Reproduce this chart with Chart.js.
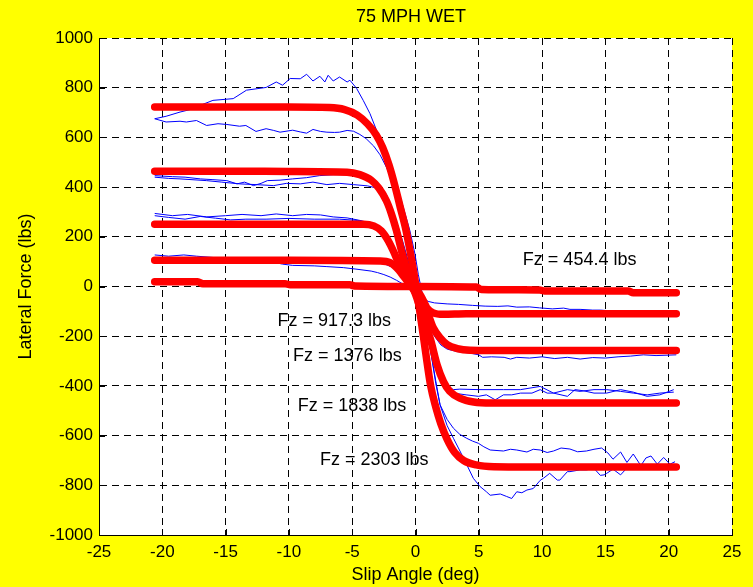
<!DOCTYPE html>
<html>
<head>
<meta charset="utf-8">
<script src="https://cdn.jsdelivr.net/npm/chart.js@4"></script>
<style>
  html, body { margin: 0; padding: 0; background: #ffff00; }
  #wrap { width: 753px; height: 587px; }
</style>
</head>
<body>
<div id="wrap"><canvas id="c" width="753" height="587"></canvas></div>
<script>
// axis ticks
const xTicks = [-25, -20, -15, -10, -5, 0, 5, 10, 15, 20, 25]
const yTicks = [-1000, -800, -600, -400, -200, 0, 200, 400, 600, 800, 1000]

// fitted curves (red), one per vertical load
const redX2303 = [-20.6, -15, -10, -6.8, -5.6, -4.6, -3.8, -3.1, -2.6, -2.1, -1.6, -1.2, -0.8, -0.4, 0, 0.4, 0.8, 1.2, 1.6, 2.0, 2.5, 3.1, 3.8, 4.8, 6.2, 10, 15, 20.6]
const redY2303 = [722, 722, 722, 720, 712, 690, 655, 610, 560, 490, 400, 318, 238, 135, 15, -120, -265, -400, -485, -552, -615, -668, -700, -718, -725, -726, -726, -726]
const redX1838 = [-20.6, -15, -10, -5.4, -4.4, -3.5, -2.9, -2.3, -1.9, -1.5, -1.1, -0.7, -0.3, 0.1, 0.5, 0.8, 1.15, 1.7, 2.2, 2.7, 3.5, 4.6, 6, 10, 15, 20.6]
const redY1838 = [464, 464, 463, 460, 450, 428, 396, 345, 292, 224, 143, 70, 10, -45, -110, -160, -207, -314, -382, -422, -449, -465, -469, -469, -469, -469]
const redX1376 = [-20.6, -15, -10, -4.1, -3.3, -2.7, -2.15, -1.75, -1.35, -0.95, -0.5, 0, 0.5, 0.9, 1.4, 1.95, 2.5, 3.3, 4.3, 6, 10, 15, 20.6]
const redY1376 = [251, 251, 251, 251, 244, 224, 184, 143, 96, 55, 15, -25, -62, -99, -166, -207, -234, -250, -257, -258, -258, -258, -258]
const redX917 = [-20.6, -15, -10, -2.8, -2.0, -1.5, -0.95, -0.55, -0.15, 0.3, 0.6, 0.9, 1.4, 2.2, 4, 10, 15, 20.6]
const redY917 = [106, 106, 106, 103, 96, 76, 42, 15, -5, -28, -55, -86, -106, -112, -110, -110, -110, -110]
const redX454 = [-20.6, -17.2, -16.8, -10.3, -9.9, -5.2, -4.8, 0, 4.8, 5.2, 9.8, 10.2, 16.8, 17.2, 20.6]
const redY454 = [19, 19, 11, 11, 7, 7, 2, 0, -2, -12, -14, -18, -18, -25, -25]

// measured sweeps (blue), two per load
const blueX2303a = [-20.6, -19.7, -18.6, -17.8, -17, -16, -14.4, -13.35, -11.8, -11, -10.5, -9.9, -9.1, -8.6, -8.1, -7.55, -7.16, -6.9, -6.5, -6.0, -5.4, -5.18, -4.65, -4.13, -3.6, -3.07, -2.55, -2.02, -1.49, -0.96, -0.44, -0.04, 0.22, 0.49, 0.8, 1.2, 1.6, 1.94, 2.5, 3.0, 3.8, 4.57, 5.1, 5.6, 5.9, 6.7, 7.2, 7.6, 8.0, 8.4, 8.8, 9.3, 9.85, 10.1, 10.6, 11.2, 11.4, 12.0, 12.2, 13.0, 13.5, 14.1, 14.6, 14.9, 15.1, 15.6, 16.2, 16.8, 18, 19, 20.6]
const blueY2303a = [675, 685, 702, 712, 729, 749, 756, 790, 801, 823, 810, 837, 836, 854, 827, 846, 823, 850, 827, 843, 823, 830, 797, 749, 696, 628, 561, 494, 413, 318, 224, 130, 49, -18, -110, -260, -390, -476, -560, -611, -691, -772, -805, -826, -840, -835, -845, -853, -826, -830, -819, -813, -780, -772, -752, -779, -779, -745, -745, -738, -738, -732, -760, -758, -752, -735, -758, -725, -722, -720, -722]
const blueX2303b = [-20.6, -19.7, -18.6, -18.1, -17.3, -16.5, -15.6, -14.9, -13.9, -13.4, -12.6, -11.8, -11.2, -10.7, -9.7, -9.1, -8.6, -8.1, -7.5, -7.0, -6.4, -6.0, -5.4, -4.9, -4.4, -3.9, -3.3, -2.8, -2.3, -2.0, -1.5, -1.0, -0.5, 0, 0.4, 0.8, 1.2, 1.6, 1.94, 2.5, 2.99, 3.5, 4.05, 4.5, 4.97, 5.4, 5.9, 6.95, 7.5, 8, 8.8, 9.3, 9.85, 10.4, 10.9, 11.5, 12.2, 12.8, 13.5, 14.1, 14.7, 15.2, 15.6, 16.2, 16.7, 17.2, 17.8, 18.2, 18.6, 19.1, 19.6, 20.1, 20.5]
const blueY2303b = [675, 662, 665, 662, 668, 648, 655, 652, 645, 648, 624, 635, 628, 621, 629, 622, 617, 632, 624, 621, 620, 621, 628, 625, 612, 595, 565, 530, 480, 445, 370, 280, 170, 55, -40, -140, -260, -380, -476, -535, -570, -595, -611, -622, -631, -645, -658, -662, -655, -658, -666, -655, -658, -668, -662, -650, -654, -665, -662, -655, -650, -670, -695, -666, -708, -674, -721, -690, -682, -715, -688, -715, -705]
const blueX1838a = [-20.6, -19.2, -18.2, -17.0, -16, -14.9, -14.1, -13.5, -12.8, -12.2, -11.7, -10.7, -9.7, -8.6, -7.6, -6.5, -5.2, -4.4, -3.6, -2.8, -2.3, -1.9, -1.5, -1.0, -0.5, 0, 0.5, 1.0, 1.5, 1.94, 2.5, 2.99, 3.5, 4.97, 6.95, 8.3, 9.85, 10.9, 12, 13, 14.1, 15.1, 16.2, 17.2, 18.3, 19.3, 20.4]
const blueY1838a = [446, 442, 440, 433, 430, 426, 413, 420, 406, 415, 426, 428, 433, 438, 446, 450, 450, 445, 430, 406, 370, 320, 260, 180, 90, 0, -90, -190, -290, -368, -398, -415, -413, -415, -415, -415, -402, -429, -415, -422, -415, -415, -422, -429, -436, -429, -425]
const blueX1838b = [-20.6, -19.5, -18.6, -16.5, -15.3, -13.9, -12.6, -11.2, -10.2, -9.1, -8.1, -7.0, -6.0, -4.9, -3.8, -2.8, -2.3, -1.9, -1.5, -1.0, -0.5, 0, 0.5, 1.0, 1.5, 1.94, 2.5, 2.99, 4.0, 4.97, 5.6, 6.3, 6.95, 7.6, 8.3, 9.2, 9.85, 10.4, 10.9, 12, 12.6, 13.3, 14.1, 15.1, 16.2, 17.2, 18.3, 19.3, 20.4]
const blueY1838b = [440, 435, 433, 426, 420, 413, 410, 406, 415, 413, 420, 410, 415, 410, 405, 393, 365, 320, 255, 170, 80, -10, -100, -200, -300, -380, -415, -429, -436, -442, -436, -456, -436, -436, -429, -429, -415, -429, -429, -442, -415, -420, -429, -429, -415, -425, -442, -436, -415]
const blueX1376a = [-20.6, -19.2, -18.0, -16.5, -15, -13.7, -12.2, -11, -9.7, -8.6, -7.5, -6.5, -5.4, -4.3, -3.6, -3.0, -2.5, -2.0, -1.5, -1.0, -0.5, 0, 0.5, 1.0, 1.5, 2.0, 2.5, 3.3, 4.3, 5, 5.3, 6, 7, 7.5, 8, 9, 10, 11, 12, 13, 14, 15, 16, 17, 18, 19, 20.6]
const blueY1376a = [294, 285, 290, 280, 285, 290, 285, 292, 285, 290, 288, 280, 276, 265, 255, 235, 210, 170, 115, 60, 10, -40, -95, -150, -200, -235, -252, -262, -268, -275, -285, -283, -285, -292, -285, -288, -283, -290, -285, -292, -286, -288, -283, -280, -275, -278, -275]
const blueX1376b = [-20.6, -19.5, -18.2, -17, -15.8, -14.6, -13.4, -11.8, -10, -8, -6, -4.6, -3.8, -3.2, -2.6, -2.0, -1.5, -1.0, -0.5, 0, 0.5, 1.0, 1.5, 2.0, 2.5, 3.3, 4.3, 6, 8, 10, 12, 14, 16, 18, 20.6]
const blueY1376b = [285, 278, 271, 282, 275, 268, 271, 271, 274, 271, 271, 266, 258, 245, 222, 185, 135, 80, 25, -25, -75, -130, -185, -225, -240, -245, -250, -252, -255, -258, -258, -255, -252, -250, -250]
const blueX917a = [-20.6, -19.5, -18.3, -17.3, -15.8, -14.3, -12.8, -11.7, -10.5, -9.7, -8.0, -7.0, -5.7, -4.7, -3.5, -3.0, -2.5, -2.0, -1.5, -1.0, -0.5, 0, 0.5, 1.0, 1.5, 2.5, 3.4, 4.5, 5.5, 6.5, 7.3, 8, 9, 9.8, 10.8, 11.7, 12.2, 13, 14, 14.6, 16, 18, 20.6]
const blueY917a = [127, 122, 127, 122, 116, 113, 108, 103, 90, 85, 83, 80, 76, 70, 62, 56, 48, 38, 25, 10, -8, -25, -45, -60, -66, -70, -72, -76, -79, -80, -78, -83, -82, -86, -90, -87, -92, -92, -95, -95, -100, -105, -108]
const blueX917b = [-20.6, -15, -10, -5, -2.5, -1.5, -1, -0.5, 0, 0.5, 1, 1.5, 2.5, 5, 10, 15, 20.6]
const blueY917b = [112, 110, 104, 100, 92, 70, 45, 15, -15, -50, -85, -102, -108, -110, -112, -110, -112]
const blueX454 = [-20.6, -15, -10, -5, 0, 5, 10, 15, 20.6]
const blueY454 = [25, 20, 10, 8, 0, -8, -15, -18, -20]

// load labels, anchored at their left edge / vertical middle in data units
const labelText = ['Fz = 454.4 lbs', 'Fz = 917.3 lbs', 'Fz = 1376 lbs', 'Fz = 1838 lbs', 'Fz = 2303 lbs']
const labelX = [8.48, -10.9, -9.67, -9.3, -7.55]
const labelY = [107, -139, -281, -479, -697]

const FONT = "'Liberation Sans', Arial, Helvetica, sans-serif"

function pts(xs, ys) {
  return xs.map((x, i) => ({ x: x, y: ys[i] }))
}

function fit(xs, ys) {
  return {
    data: pts(xs, ys),
    borderColor: '#ff0000',
    borderWidth: 7.5,
    borderCapStyle: 'round',
    borderJoinStyle: 'round',
    cubicInterpolationMode: 'monotone',
    pointRadius: 0,
    order: 0
  }
}

function sweep(xs, ys) {
  return {
    data: pts(xs, ys),
    borderColor: '#0000ff',
    borderWidth: 1,
    tension: 0,
    pointRadius: 0,
    order: 1
  }
}

const background = {
  id: 'background',
  beforeDraw(chart) {
    const { ctx, chartArea: a } = chart
    ctx.save()
    ctx.fillStyle = '#ffff00'
    ctx.fillRect(0, 0, chart.width, chart.height)
    ctx.fillStyle = '#ffffff'
    ctx.fillRect(a.left, a.top, a.right - a.left, a.bottom - a.top)
    ctx.restore()
  }
}

const overlay = {
  id: 'overlay',
  afterDraw(chart) {
    const { ctx, chartArea: a, scales } = chart
    const x = scales.x, y = scales.y
    ctx.save()
    // inward tick marks on the left and bottom axes
    ctx.strokeStyle = '#000'
    ctx.lineWidth = 1
    ctx.setLineDash([])
    ctx.beginPath()
    xTicks.forEach(v => {
      const px = Math.round(x.getPixelForValue(v)) + 0.5
      ctx.moveTo(px, a.bottom)
      ctx.lineTo(px, a.bottom - 6)
    })
    yTicks.forEach(v => {
      const py = Math.round(y.getPixelForValue(v)) + 0.5
      ctx.moveTo(a.left, py)
      ctx.lineTo(a.left + 6, py)
    })
    ctx.stroke()

    ctx.fillStyle = '#000'
    ctx.font = '18px ' + FONT
    ctx.textBaseline = 'middle'
    ctx.textAlign = 'left'
    labelText.forEach((t, i) => {
      ctx.fillText(t, x.getPixelForValue(labelX[i]), y.getPixelForValue(labelY[i]))
    })

    ctx.textAlign = 'center'
    ctx.fillText('75 MPH WET', 411, 17)
    ctx.fillText('Slip Angle (deg)', (a.left + a.right) / 2, 575)
    ctx.translate(26, (a.top + a.bottom) / 2)
    ctx.rotate(-Math.PI / 2)
    ctx.fillText('Lateral Force (lbs)', 0, 0)
    ctx.restore()
  }
}

new Chart(document.getElementById('c'), {
  type: 'line',
  data: {
    datasets: [
      fit(redX2303, redY2303),
      fit(redX1838, redY1838),
      fit(redX1376, redY1376),
      fit(redX917, redY917),
      fit(redX454, redY454),
      sweep(blueX2303a, blueY2303a),
      sweep(blueX2303b, blueY2303b),
      sweep(blueX1838a, blueY1838a),
      sweep(blueX1838b, blueY1838b),
      sweep(blueX1376a, blueY1376a),
      sweep(blueX1376b, blueY1376b),
      sweep(blueX917a, blueY917a),
      sweep(blueX917b, blueY917b),
      sweep(blueX454, blueY454)
    ]
  },
  options: {
    responsive: false,
    animation: false,
    events: [],
    layout: { padding: { top: 38, right: 21, left: 0, bottom: 0 } },
    plugins: {
      legend: { display: false },
      title: { display: false },
      tooltip: { enabled: false }
    },
    scales: {
      x: {
        type: 'linear',
        min: -25,
        max: 25,
        afterBuildTicks: s => { s.ticks = xTicks.map(v => ({ value: v })) },
        afterFit: s => { s.height = 52 },
        ticks: { color: '#000', padding: 7, font: { family: FONT, size: 17 }, maxRotation: 0, callback: v => String(v) },
        grid: { color: '#000', lineWidth: 1, drawTicks: false },
        border: { display: true, color: '#000', width: 1, dash: [7, 5] }
      },
      y: {
        type: 'linear',
        min: -1000,
        max: 1000,
        afterBuildTicks: s => { s.ticks = yTicks.map(v => ({ value: v })) },
        afterFit: s => { s.width = 99 },
        ticks: { color: '#000', padding: 6, font: { family: FONT, size: 17 }, callback: v => String(v) },
        grid: { color: '#000', lineWidth: 1, drawTicks: false },
        border: { display: true, color: '#000', width: 1, dash: [7, 5] }
      }
    }
  },
  plugins: [background, overlay]
})
</script>
</body>
</html>
